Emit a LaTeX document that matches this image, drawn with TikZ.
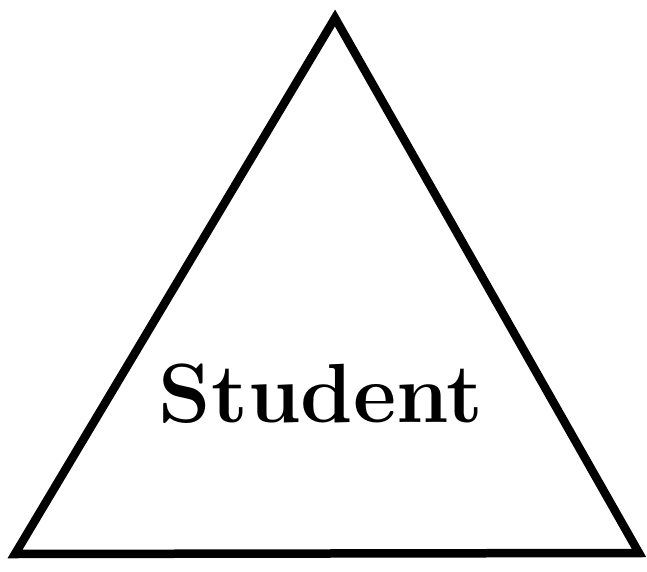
\documentclass[tikz,border=0pt]{standalone}
\usepackage{tikz}
\usetikzlibrary{calc}

\begin{document}
\begin{tikzpicture}[x=1pt,y=1pt,line width=8.5pt]

\useasboundingbox (0,0) rectangle (647,571);

\coordinate (A) at (15,17);
\coordinate (B) at (335,553);
\coordinate (C) at (639,18);

\draw (A)--(B)--(C)--cycle;

\node[font=\bfseries\fontsize{84}{96}\selectfont] (student) at (321,177) {Student};

\end{tikzpicture}
\end{document}
